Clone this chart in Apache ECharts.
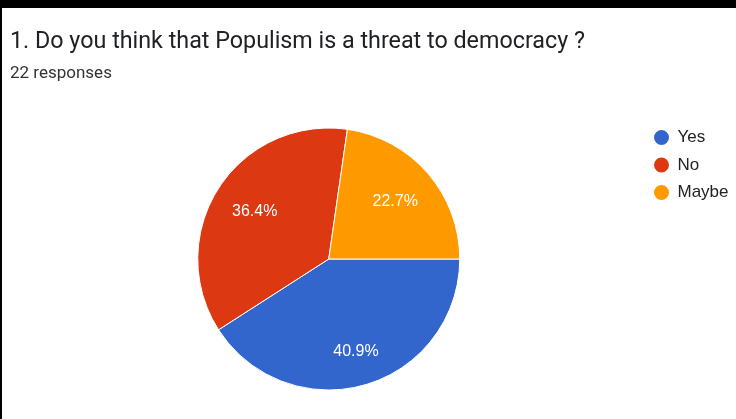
<!DOCTYPE html>
<html>
<head>
<meta charset="utf-8">
<script src="https://cdn.jsdelivr.net/npm/echarts@6/dist/echarts.min.js"></script>
<style>
  html, body { margin: 0; padding: 0; background: #000; }
  #frame { position: absolute; left: 2px; top: 8px; width: 734px; height: 411px; background: #fff; }
  #chart { width: 734px; height: 411px; }
</style>
</head>
<body>
<div id="frame"><div id="chart"></div></div>
<script>
// Survey answers (22 responses)
const questionTitle = '1. Do you think that Populism is a threat to democracy ?';
const responseNote = '22 responses';
const answers = ['Yes', 'No', 'Maybe'];
const counts = [9, 8, 5];
const sliceColors = ['#3366cc', '#dc3912', '#ff9900'];

// labels sit on a wider ring than the pie itself
const labelRingNear = ['No', 'Maybe'];
const labelRingFar = ['Yes'];

const chart = echarts.init(document.getElementById('chart'), null, { renderer: 'canvas' });

const pieCenter = [326.75, 251];
const labelFont = { color: '#fff', fontSize: 16, fontFamily: 'Liberation Sans, Arial, sans-serif' };

function labelLayer(showNames, outerRadius) {
  return {
    type: 'pie',
    silent: true,
    center: pieCenter,
    radius: [0, outerRadius],
    startAngle: 0,
    clockwise: true,
    percentPrecision: 1,
    legendHoverLink: false,
    z: 5,
    itemStyle: { color: 'rgba(0,0,0,0)', borderWidth: 0 },
    emphasis: { disabled: true },
    labelLine: { show: false },
    data: answers.map((name, i) => ({
      name,
      value: counts[i],
      label: Object.assign({ show: showNames.includes(name), position: 'inside', formatter: '{d}%' }, labelFont)
    }))
  };
}

chart.setOption({
  animation: false,
  color: sliceColors,
  title: [
    {
      text: questionTitle,
      left: 8, top: 23, padding: 0,
      textStyle: { fontFamily: 'Roboto, sans-serif', fontSize: 23.3, fontWeight: 'normal', color: '#202124' }
    },
    {
      text: responseNote,
      left: 8, top: 57, padding: 0,
      textStyle: { fontFamily: 'Roboto, sans-serif', fontSize: 17, fontWeight: 'normal', color: '#333' }
    }
  ],
  legend: {
    orient: 'vertical',
    left: 645, top: 115,
    icon: 'circle',
    itemWidth: 18, itemHeight: 17,
    itemGap: 8.5,
    data: answers,
    selectedMode: false,
    textStyle: { fontFamily: 'Liberation Sans, Arial, sans-serif', fontSize: 17, color: '#222', padding: [0, 0, 0, 2] }
  },
  series: [
    {
      type: 'pie',
      center: pieCenter,
      radius: [0, 131],
      startAngle: 0,
      clockwise: true,
      label: { show: false },
      labelLine: { show: false },
      itemStyle: { borderColor: '#fff', borderWidth: 1 },
      emphasis: { scale: false },
      data: answers.map((name, i) => ({ name, value: counts[i], itemStyle: { color: sliceColors[i] } }))
    },
    labelLayer(labelRingNear, 170),
    labelLayer(labelRingFar, 187)
  ]
});
</script>
</body>
</html>
